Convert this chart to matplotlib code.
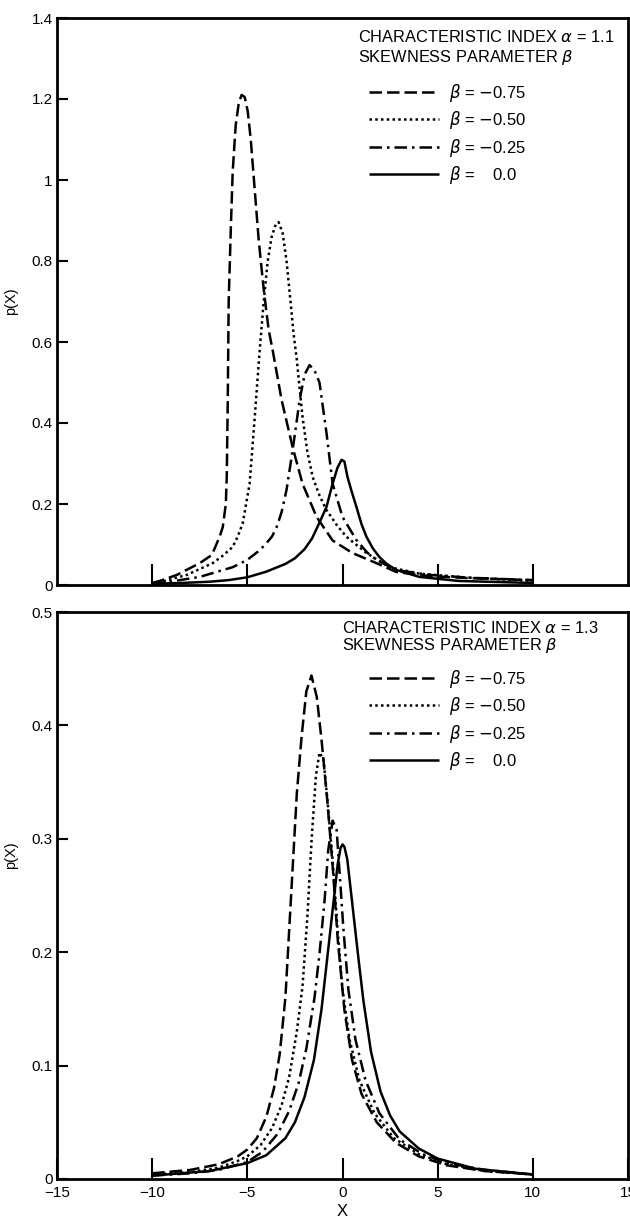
import numpy as np
import matplotlib
matplotlib.use("Agg")
import matplotlib.pyplot as plt

plt.rcParams['font.family'] = ['Liberation Sans', 'DejaVu Sans']

# ---- data ----
# panel 1: alpha = 1.1
a11_m075_x = [-10.0, -9.6, -8.7, -7.5, -6.87, -6.71, -6.45, -6.29, -6.13, -6.08, -6.03, -5.98, -5.87,
              -5.77, -5.61, -5.45, -5.30, -5.14, -4.98, -4.82, -4.61, -4.40, -4.14, -3.88, -3.67,
              -3.20, -2.62, -2.10, -1.36, -0.52, 0.52, 1.78, 2.83, 4.56, 6.66, 10.0]
a11_m075_y = [0.005, 0.010, 0.025, 0.054, 0.074, 0.091, 0.120, 0.143, 0.200, 0.270, 0.450, 0.700, 0.877,
              1.020, 1.136, 1.190, 1.210, 1.205, 1.170, 1.100, 0.975, 0.850, 0.730, 0.630, 0.580,
              0.457, 0.340, 0.250, 0.168, 0.110, 0.079, 0.054, 0.032, 0.022, 0.017, 0.012]

a11_m050_x = [-10.0, -9.6, -8.18, -6.82, -6.3, -5.77, -5.5, -5.24, -4.88, -4.61, -4.35, -4.14, -3.93,
              -3.72, -3.51, -3.36, -3.15, -2.94, -2.73, -2.57, -2.41, -2.10, -1.85, -1.57, -1.2, -0.84,
              -0.3, 0.21, 1.26, 2.46, 4.04, 6.66, 10.0]
a11_m050_y = [0.004, 0.007, 0.025, 0.054, 0.072, 0.094, 0.120, 0.153, 0.250, 0.415, 0.580, 0.700, 0.800,
              0.860, 0.890, 0.896, 0.870, 0.800, 0.700, 0.620, 0.560, 0.415, 0.330, 0.267, 0.220, 0.185,
              0.148, 0.119, 0.079, 0.044, 0.028, 0.018, 0.010]

a11_m025_x = [-10.0, -9.23, -7.5, -5.77, -5.0, -4.35, -4.0, -3.7, -3.46, -3.2, -2.94, -2.62, -2.25,
              -1.99, -1.73, -1.47, -1.21, -0.84, -0.52, 0.0, 0.73, 1.3, 1.78, 2.83, 4.56, 6.66, 10.0]
a11_m025_y = [0.004, 0.007, 0.020, 0.044, 0.062, 0.086, 0.103, 0.120, 0.143, 0.180, 0.235, 0.333, 0.457,
              0.520, 0.543, 0.530, 0.500, 0.375, 0.250, 0.168, 0.111, 0.080, 0.062, 0.037, 0.025, 0.018,
              0.012]

a11_000_x = [-10.0, -8.5, -7.0, -6.0, -5.0, -4.0, -3.0, -2.5, -2.0, -1.6, -1.2, -0.84, -0.52, -0.26,
             -0.05, 0.10, 0.26, 0.5, 0.73, 1.0, 1.26, 1.6, 1.94, 2.3, 2.83, 4.04, 6.10, 10.0]
a11_000_y = [0.003, 0.005, 0.008, 0.012, 0.019, 0.033, 0.052, 0.066, 0.088, 0.115, 0.155, 0.193, 0.250,
             0.290, 0.309, 0.305, 0.267, 0.228, 0.193, 0.150, 0.119, 0.090, 0.069, 0.053, 0.037, 0.020,
             0.010, 0.005]

# panel 2: alpha = 1.3
a13_m075_x = [-10.0, -8.0, -6.5, -5.5, -5.0, -4.5, -4.0, -3.6, -3.3, -3.0, -2.8, -2.6, -2.4, -2.15,
              -1.9, -1.63, -1.35, -1.1, -0.8, -0.5, -0.25, 0.1, 0.5, 1.0, 1.8, 2.8, 4.0, 5.5, 7.5, 10.0]
a13_m075_y = [0.005, 0.008, 0.013, 0.020, 0.026, 0.036, 0.055, 0.080, 0.110, 0.160, 0.220, 0.280, 0.340,
              0.390, 0.430, 0.444, 0.425, 0.387, 0.334, 0.272, 0.211, 0.149, 0.105, 0.075, 0.050, 0.032,
              0.020, 0.012, 0.007, 0.004]

a13_m050_x = [-10.0, -8.0, -6.5, -5.5, -5.0, -4.3, -3.7, -3.2, -2.8, -2.4, -2.1, -1.85, -1.62, -1.4,
              -1.21, -1.0, -0.79, -0.52, -0.26, 0.0, 0.37, 0.89, 1.68, 2.7, 4.0, 5.5, 7.5, 10.0]
a13_m050_y = [0.004, 0.006, 0.010, 0.016, 0.020, 0.030, 0.045, 0.065, 0.090, 0.130, 0.170, 0.230, 0.300,
              0.355, 0.376, 0.370, 0.334, 0.281, 0.220, 0.167, 0.123, 0.087, 0.058, 0.036, 0.022, 0.013,
              0.007, 0.004]

a13_m025_x = [-10.0, -8.0, -6.5, -5.0, -4.2, -3.4, -2.8, -2.3, -1.9, -1.47, -1.2, -0.94, -0.75, -0.52,
              -0.31, -0.16, 0.05, 0.31, 0.68, 1.21, 1.94, 2.99, 4.2, 5.5, 7.5, 10.0]
a13_m025_y = [0.003, 0.005, 0.008, 0.015, 0.024, 0.040, 0.060, 0.085, 0.115, 0.160, 0.200, 0.246, 0.290,
              0.316, 0.308, 0.272, 0.220, 0.167, 0.123, 0.087, 0.058, 0.035, 0.022, 0.014, 0.008, 0.004]

a13_000_x = [-10.0, -7.0, -5.0, -4.0, -3.0, -2.5, -2.0, -1.5, -1.1, -0.8, -0.5, -0.25, -0.1, 0.0, 0.1,
             0.25, 0.5, 0.8, 1.1, 1.5, 2.0, 2.5, 3.0, 4.0, 5.0, 7.0, 10.0]
a13_000_y = [0.003, 0.007, 0.014, 0.021, 0.036, 0.050, 0.072, 0.105, 0.150, 0.195, 0.240, 0.278, 0.292,
             0.295, 0.293, 0.282, 0.245, 0.200, 0.157, 0.112, 0.077, 0.056, 0.042, 0.027, 0.018, 0.009,
             0.004]

beta_labels = [r'$\beta$ = $-$0.75', r'$\beta$ = $-$0.50', r'$\beta$ = $-$0.25', r'$\beta$ =    0.0']
titles = [r'CHARACTERISTIC INDEX $\alpha$ = 1.1', r'CHARACTERISTIC INDEX $\alpha$ = 1.3']
subtitle = r'SKEWNESS PARAMETER $\beta$'

styles = [dict(ls=(0, (5, 2)), lw=1.8),
          dict(ls=(0, (1, 1.3)), lw=1.8),
          dict(ls=(0, (5, 2, 1, 2)), lw=1.8),
          dict(ls='-', lw=1.8)]

fig = plt.figure(figsize=(6.30, 12.22), dpi=100)
ax1 = fig.add_axes([57 / 630, 1 - 585 / 1222, 571 / 630, 567 / 1222])
ax2 = fig.add_axes([57 / 630, 1 - 1179 / 1222, 571 / 630, 567 / 1222])

panels = [
    (ax1, [(a11_m075_x, a11_m075_y), (a11_m050_x, a11_m050_y), (a11_m025_x, a11_m025_y), (a11_000_x, a11_000_y)],
     1.4, [0, 0.2, 0.4, 0.6, 0.8, 1.0, 1.2, 1.4], ['0', '0.2', '0.4', '0.6', '0.8', '1', '1.2', '1.4']),
    (ax2, [(a13_m075_x, a13_m075_y), (a13_m050_x, a13_m050_y), (a13_m025_x, a13_m025_y), (a13_000_x, a13_000_y)],
     0.5, [0, 0.1, 0.2, 0.3, 0.4, 0.5], ['0', '0.1', '0.2', '0.3', '0.4', '0.5']),
]

# text placement per panel: (title x, title y, subtitle y, legend top)
text_pos = [(0.527, 0.966, 0.931, 0.888), (0.499, 0.971, 0.941, 0.902)]

for i, (ax, curves, ymax, yt, ytl) in enumerate(panels):
    lines = []
    for (xs, ys), st in zip(curves, styles):
        ln, = ax.plot(xs, ys, color='black', solid_capstyle='butt', dash_capstyle='butt',
                      solid_joinstyle='round', dash_joinstyle='round', **st)
        lines.append(ln)
    ax.set_xlim(-15, 15)
    ax.set_ylim(0, ymax)
    ax.set_yticks(yt)
    ax.set_yticklabels(ytl)
    ax.set_xticks([-10, -5, 0, 5, 10])
    ax.tick_params(axis='y', direction='in', length=8, width=1.5, labelsize=11, pad=3)
    ax.tick_params(axis='x', direction='in', length=15, width=1.5, labelsize=11, pad=5)
    for s in ax.spines.values():
        s.set_linewidth(2)
    ax.set_ylabel('p(X)', fontsize=10.5)
    tx, ty1, ty2, ly = text_pos[i]
    ax.text(tx, ty1, titles[i], transform=ax.transAxes, fontsize=11.8, va='center', ha='left')
    ax.text(tx, ty2, subtitle, transform=ax.transAxes, fontsize=11.8, va='center', ha='left')
    ax.legend(lines, beta_labels, loc='upper left', bbox_to_anchor=(0.546, ly), frameon=False,
              handlelength=4.2, handletextpad=0.6, labelspacing=0.33, fontsize=12,
              borderpad=0, borderaxespad=0)

ax1.yaxis.set_label_coords(-0.068, 0.5)
ax2.yaxis.set_label_coords(-0.068, 0.571)
ax1.set_xticklabels([])
ax2.set_xticks([-15, -10, -5, 0, 5, 10, 15])
ax2.set_xticklabels(['\u221215', '\u221210', '\u22125', '0', '5', '10', '15'])
ax2.set_xlabel('X', fontsize=12, labelpad=3)

fig.savefig('out.png', dpi=100)
